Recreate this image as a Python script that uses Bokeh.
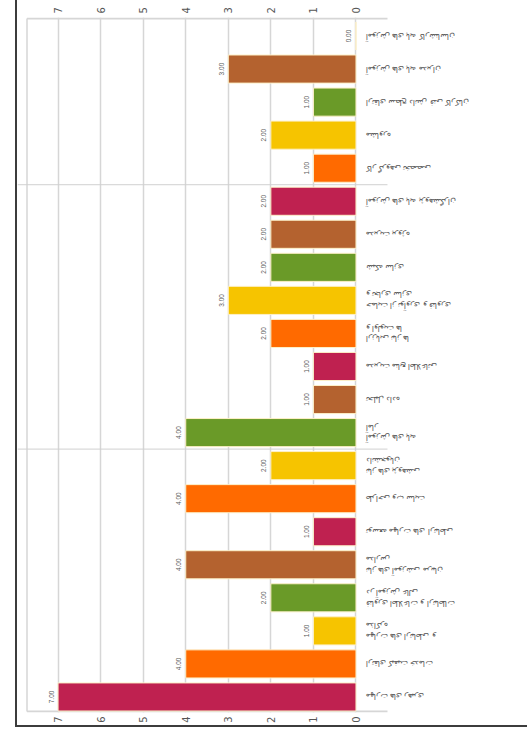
import math
from bokeh.plotting import figure
from bokeh.models import Range1d, LinearAxis, FixedTicker, ColumnDataSource
from bokeh.embed import file_html
from bokeh.resources import INLINE

categories = [
    "آموزش های پایه کارشناسان",
    "آموزش های پایه مدیران",
    "ارتقای سطح دانش فنی کارکنان",
    "مشاوره",
    "کار گروهی تخصصی",
    "آموزش های پایه پژوهشگران",
    "مدیریت پروژه",
    "شبکه سازی",
    "حمایت از نوآوری و فناوری\nو تجاری سازی",
    "ارزیابی نیاز ها\nو اولویت ها",
    "مدیریت منابع اطلاعاتی",
    "تحلیل داده",
    "آموزش های پایه\nآمار",
    "نیاز های پژوهشی\nدانشجویان",
    "طراحی وب سایت",
    "توسعه مهارت های ارتباطی",
    "نیاز های آموزشی مربیان\nمدارس",
    "فناوری اطلاعات و ارتباطات\nدر آموزش عالی",
    "مهارت های ارتباطی و\nمذاکره",
    "ارتقای کیفیت خدمات",
    "مهارت های رهبری",
]
values = [0, 3, 1, 2, 1, 2, 2, 2, 3, 2, 1, 1, 4, 2, 4, 1, 4, 2, 1, 4, 7]
value_labels = [f"{v:.2f}" for v in values]
value_ticks = [0, 1, 2, 3, 4, 5, 6, 7]
group_breaks = [5.5, 13.5]
palette = ["#bf2150", "#b4622f", "#6a9a28", "#f6c400", "#ff6a00"]

n = len(categories)
positions = list(range(1, n + 1))
colors = [palette[i % len(palette)] for i in range(n)]

# layout constants (data units)
X_MAX, X_MIN = 7.953, -4.077       # visible frame extents
PLOT_LEFT = 7.73                   # left edge of the value area
TICK_END = -0.74                   # end of category separator stubs
LABEL_X = -0.235                   # category label anchor
Y_TOP, Y_BOT = 0.47, 21.44         # value-area top/bottom edges

src = ColumnDataSource(dict(y=positions, v=values, lab=value_labels, c=colors))
cat_src = ColumnDataSource(dict(y=positions, t=categories, x=[LABEL_X] * n))

p = figure(
    width=512, height=727,
    x_range=Range1d(X_MAX, X_MIN), y_range=Range1d(21.47, 0.44),
    output_backend="svg", toolbar_location=None,
    x_axis_location="above", y_axis_location=None,
    min_border_left=0, min_border_right=0, min_border_top=17, min_border_bottom=15,
)
p.styles = {"margin-left": "15px", "border-left": "2px solid #3c3c3c",
            "border-bottom": "2px solid #3c3c3c"}
p.outline_line_color = None
p.background_fill_color = "white"

xt = FixedTicker(ticks=value_ticks)
p.xaxis.ticker = xt
bottom = LinearAxis(ticker=xt)
p.add_layout(bottom, "below")
for ax in p.xaxis:
    ax.axis_line_color = None
    ax.major_tick_line_color = None
    ax.minor_tick_line_color = None
    ax.major_tick_in = 0
    ax.major_tick_out = 0
    ax.major_label_orientation = math.pi / 2
    ax.major_label_text_font = "DejaVu Sans"
    ax.major_label_text_font_size = "10px"
    ax.major_label_text_color = "#555555"
    ax.major_label_standoff = 4

p.xgrid.ticker = xt
p.xgrid.grid_line_color = "#d6d6d6"
p.xgrid.grid_line_width = 1.5
p.ygrid.grid_line_color = None

# frame of the value area and category separators
p.segment(x0=[PLOT_LEFT], y0=[Y_TOP], x1=[PLOT_LEFT], y1=[Y_BOT], line_color="#d6d6d6", line_width=1.5)
p.segment(x0=[PLOT_LEFT, PLOT_LEFT], y0=[Y_TOP, Y_BOT], x1=[TICK_END, TICK_END], y1=[Y_TOP, Y_BOT],
          line_color="#d6d6d6", line_width=2)
p.segment(x0=[X_MAX] * len(group_breaks), y0=group_breaks, x1=[TICK_END] * len(group_breaks), y1=group_breaks,
          line_color="#d0d0d0", line_width=1)

p.hbar(y="y", left=0, right="v", height=0.85, fill_color="c",
       line_color="#fdf0c8", line_width=1, source=src)
p.text(x="v", y="y", text="lab", angle=math.pi / 2, x_offset=-7,
       text_align="center", text_baseline="middle", text_font_size="6.5px",
       text_color="#595959", source=src)
p.text(x="x", y="y", text="t", angle=math.pi, text_align="right", text_baseline="middle",
       text_font_size="8px", text_color="#555555", source=cat_src)

html = file_html(p, INLINE)
html = html.replace("<head>", "<head><style>html,body{overflow:hidden;}</style>", 1)
open("out.html", "w").write(html)
